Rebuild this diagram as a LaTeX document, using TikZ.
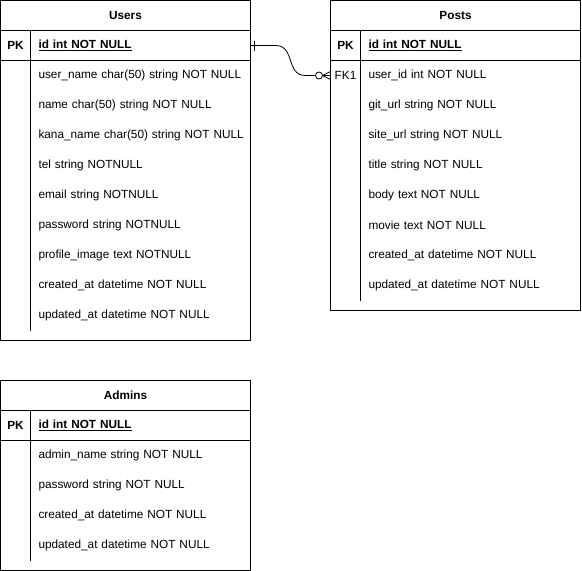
\documentclass[tikz,border=0pt]{standalone}
\usepackage{fontspec}
\setmainfont{Liberation Sans}
\usetikzlibrary{positioning}

\begin{document}
\begin{tikzpicture}[
    x=1pt, y=-1pt,
    node distance=0pt, % rows stacked flush
    line width=0.8pt,
    every node/.style={font=\fontsize{11.8}{14}\selectfont,outer sep=0pt},
    tablebox/.style={draw,minimum width=250pt,anchor=north west,inner sep=0pt},
    tablehead/.style={draw,minimum width=250pt,minimum height=30pt,inner sep=0pt,font=\fontsize{11.8}{14}\selectfont\bfseries},
    keyrow/.style={draw,minimum width=250pt,minimum height=30pt,inner sep=0pt},
    keytag/.style={minimum width=30pt,minimum height=30pt,inner sep=0pt},
    field/.style={text width=210pt,align=left,minimum height=30pt,inner sep=0pt},
    rel/.style={line width=0.8pt}
]
\useasboundingbox (0,0) rectangle (582,571);

% Users
\node[tablebox,minimum height=340pt] (users) at (0.5,0.5) {};
\node[tablehead,below=0pt of users.north] (uhead) {Users};
\node[keyrow,below=of uhead] (upk) {};
\node[keytag,font=\fontsize{11.8}{14}\selectfont\bfseries] (ukey) at ([xshift=15pt]upk.west) {PK};
\node[field,anchor=west,font=\fontsize{11.8}{14}\selectfont\bfseries] (uid) at ([xshift=38pt]upk.west) {\underline{id int NOT NULL}};
\node[field,anchor=north west] (u1) at ([xshift=38pt]upk.south west) {user\_name char(50) string NOT NULL};
\node[field,below=of u1] (u2) {name char(50) string NOT NULL};
\node[field,below=of u2] (u3) {kana\_name char(50) string NOT NULL};
\node[field,below=of u3] (u4) {tel string NOTNULL};
\node[field,below=of u4] (u5) {email string NOTNULL};
\node[field,below=of u5] (u6) {password string NOTNULL};
\node[field,below=of u6] (u7) {profile\_image text NOTNULL};
\node[field,below=of u7] (u8) {created\_at datetime NOT NULL};
\node[field,below=of u8] (u9) {updated\_at datetime NOT NULL};

% Posts
\node[tablebox,minimum height=310pt] (posts) at (330.5,0.5) {};
\node[tablehead,below=0pt of posts.north] (phead) {Posts};
\node[keyrow,below=of phead] (ppk) {};
\node[keytag,font=\fontsize{11.8}{14}\selectfont\bfseries] (pkey) at ([xshift=15pt]ppk.west) {PK};
\node[field,anchor=west,font=\fontsize{11.8}{14}\selectfont\bfseries] (pid) at ([xshift=38pt]ppk.west) {\underline{id int NOT NULL}};
\node[field,anchor=north west] (p1) at ([xshift=38pt]ppk.south west) {user\_id int NOT NULL};
\node[keytag,anchor=north west] (pfk) at (ppk.south west) {FK1};
\node[field,below=of p1] (p2) {git\_url string NOT NULL};
\node[field,below=of p2] (p3) {site\_url string NOT NULL};
\node[field,below=of p3] (p4) {title string NOT NULL};
\node[field,below=of p4] (p5) {body text NOT NULL};
\node[field,below=of p5] (p6) {movie text NOT NULL};
\node[field,below=of p6] (p7) {created\_at datetime NOT NULL};
\node[field,below=of p7] (p8) {updated\_at datetime NOT NULL};

% Admins
\node[tablebox,minimum height=190pt] (admins) at (0.5,380.5) {};
\node[tablehead,below=0pt of admins.north] (ahead) {Admins};
\node[keyrow,below=of ahead] (apk) {};
\node[keytag,font=\fontsize{11.8}{14}\selectfont\bfseries] (akey) at ([xshift=15pt]apk.west) {PK};
\node[field,anchor=west,font=\fontsize{11.8}{14}\selectfont\bfseries] (aid) at ([xshift=38pt]apk.west) {\underline{id int NOT NULL}};
\node[field,anchor=north west] (a1) at ([xshift=38pt]apk.south west) {admin\_name string NOT NULL};
\node[field,below=of a1] (a2) {password string NOT NULL};
\node[field,below=of a2] (a3) {created\_at datetime NOT NULL};
\node[field,below=of a3] (a4) {updated\_at datetime NOT NULL};

% key column dividers
\foreach \t/\k in {users/upk,posts/ppk,admins/apk} {
    \draw ([xshift=30pt]\k.north west) -- ([xshift=30pt,yshift=10pt]\t.south west);
}

% Users 1 -- 0..n Posts
\draw[rel] (upk.east) -- ([xshift=25pt]upk.east)
    .. controls ([xshift=45pt]upk.east) and ([xshift=-45pt]pfk.west)
    .. ([xshift=-25pt]pfk.west) -- ([xshift=-15pt]pfk.west);
\draw[rel] ([xshift=4pt,yshift=5pt]upk.east) -- ([xshift=4pt,yshift=-5pt]upk.east);
\draw[rel] ([xshift=-11.5pt]pfk.west) circle (3.5pt);
\draw[rel] ([xshift=-8pt]pfk.west) -- ([yshift=4pt]pfk.west);
\draw[rel] ([xshift=-8pt]pfk.west) -- (pfk.west);
\draw[rel] ([xshift=-8pt]pfk.west) -- ([yshift=-4pt]pfk.west);

\end{tikzpicture}
\end{document}
